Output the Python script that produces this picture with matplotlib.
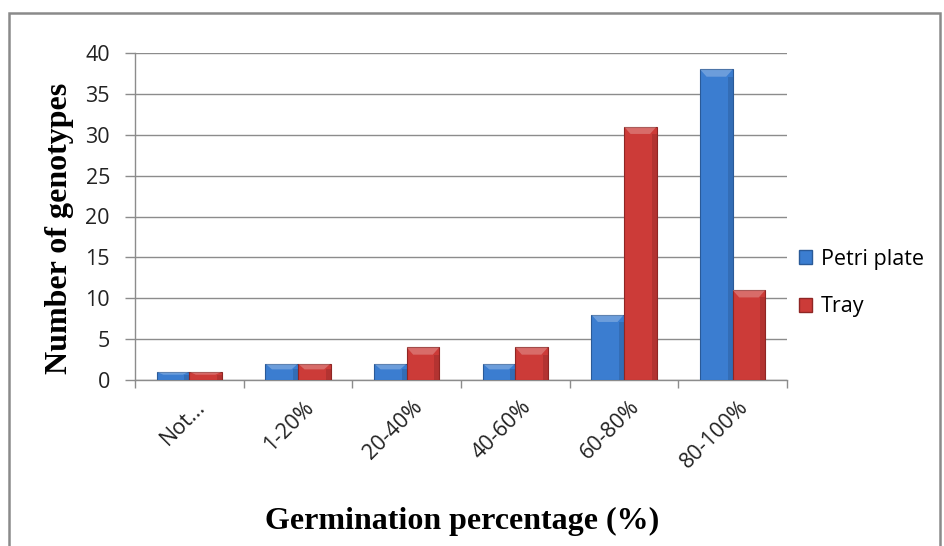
import matplotlib
matplotlib.use("Agg")
import matplotlib.pyplot as plt
import matplotlib.patches as mpatches
import numpy as np

# ── data ──────────────────────────────────────────────────────────────────────
categories = ["Not...", "1-20%", "20-40%", "40-60%", "60-80%", "80-100%"]
petri_plate = [1, 2, 2, 2, 8, 38]
tray = [1, 2, 4, 4, 31, 11]
y_ticks = [0, 5, 10, 15, 20, 25, 30, 35, 40]

# ── style ─────────────────────────────────────────────────────────────────────
BLUE = "#3b7dd0"
BLUE_EDGE = "#2a5a98"
RED = "#cc3b38"
RED_EDGE = "#8f2624"
GRID = "#8c8c8c"
TICK_FONT = "Open Sans"
LABEL_FONT = "Liberation Serif"
TICK_SIZE = 15.5

fig = plt.figure(figsize=(9.44, 5.46), dpi=100)
fig.patch.set_facecolor("white")

# outer chart frame (bottom edge cut off in the reference)
frame = mpatches.Rectangle((9 / 944, -0.05), 931 / 944, 1.05 - 13 / 546,
                           transform=fig.transFigure, fill=False,
                           edgecolor="#8a8a8a", linewidth=1.8)
fig.patches.append(frame)

ax = fig.add_axes([135 / 944, 1 - 380 / 546, 652 / 944, 327 / 546])

x = np.arange(len(categories))
w = 0.3


def draw_bars(xs, vals, face, edge):
    bars = ax.bar(xs, vals, width=w, color=face, edgecolor=edge,
                  linewidth=0.8, zorder=3)
    # fake bevel: lighter cap on top, darker strip on the right
    for b in bars:
        h = b.get_height()
        cap = min(0.9, h * 0.35)
        ax.add_patch(mpatches.Polygon(
            [(b.get_x(), h), (b.get_x() + w, h),
             (b.get_x() + w * 0.8, h - cap), (b.get_x() + w * 0.2, h - cap)],
            closed=True, facecolor="white", alpha=0.25, edgecolor="none",
            zorder=4))
        ax.add_patch(mpatches.Rectangle(
            (b.get_x() + w * 0.85, 0), w * 0.15, max(h - cap, 0),
            facecolor="black", alpha=0.12, edgecolor="none", zorder=4))
    return bars


draw_bars(x - w / 2, petri_plate, BLUE, BLUE_EDGE)
draw_bars(x + w / 2, tray, RED, RED_EDGE)

ax.set_xlim(-0.5, len(categories) - 0.5)
ax.set_ylim(0, 40)
ax.set_yticks(y_ticks)
ax.set_yticklabels([str(t) for t in y_ticks], fontsize=TICK_SIZE,
                   family=TICK_FONT, color="#222222")
ax.yaxis.grid(True, color=GRID, linewidth=1.0, zorder=0)
ax.set_axisbelow(True)

# category ticks sit on the boundaries, labels at the centers
ax.set_xticks(np.arange(len(categories) + 1) - 0.5)
ax.set_xticklabels([])
ax.set_xticks(x + 0.05, minor=True)
ax.set_xticklabels(categories, minor=True, rotation=45, ha="right",
                   va="top", rotation_mode="anchor", fontsize=TICK_SIZE,
                   family=TICK_FONT, color="#222222")
ax.tick_params(axis="x", which="major", length=6, color=GRID, width=1)
ax.tick_params(axis="x", which="minor", length=0, pad=12)
ax.tick_params(axis="y", length=7, color=GRID, width=1, pad=11)

for side in ["top", "right"]:
    ax.spines[side].set_visible(False)
for side in ["left", "bottom"]:
    ax.spines[side].set_color(GRID)
    ax.spines[side].set_linewidth(1.0)

fig.text(60 / 944, 1 - 228 / 546, "Number of genotypes", rotation=90,
         ha="center", va="center", fontsize=23, fontweight="bold",
         family=LABEL_FONT)
fig.text(462 / 944, 1 - 521 / 546, "Germination percentage (%)",
         ha="center", va="center", fontsize=23, fontweight="bold",
         family=LABEL_FONT)

handles = [mpatches.Patch(facecolor=BLUE, edgecolor=BLUE_EDGE, label="Petri plate"),
           mpatches.Patch(facecolor=RED, edgecolor=RED_EDGE, label="Tray")]
fig.legend(handles=handles, loc="center left",
           bbox_to_anchor=(780 / 944, 1 - 283 / 546), frameon=False,
           prop={"family": TICK_FONT, "size": 15.5},
           handlelength=0.6, handleheight=0.6, handletextpad=0.4,
           labelspacing=1.25)

fig.savefig("out.png", dpi=100, facecolor="white")
